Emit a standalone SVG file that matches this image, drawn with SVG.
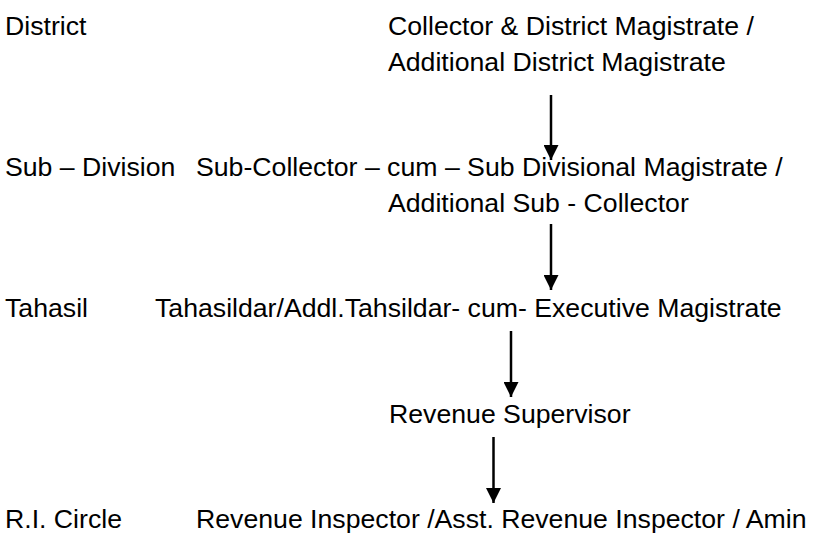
<svg xmlns="http://www.w3.org/2000/svg" width="813" height="537" viewBox="0 0 813 537">
<defs>
<style>
text{font-family:"Liberation Sans",Arial,sans-serif;font-size:26.67px;fill:#000}
.c line{stroke:#000;stroke-width:2.5}
</style>
<marker id="ah" viewBox="0 0 10 10" refX="10" refY="5" markerWidth="6" markerHeight="6" markerUnits="strokeWidth" orient="auto">
<path d="M0,0 L10,5 L0,10 Z" fill="#000"/>
</marker>
</defs>
<rect width="813" height="537" fill="#fff"/>
<g id="lbl-district"><text x="5" y="35">District</text></g>
<g id="n-collector"><text x="388" y="35">Collector &amp; District Magistrate /</text><text x="388" y="70.5">Additional District Magistrate</text></g>
<g id="lbl-subdivision"><text x="5" y="175.5">Sub – Division</text></g>
<g id="n-subcollector"><text x="196" y="175.5">Sub-Collector – cum – Sub Divisional Magistrate /</text><text x="388" y="211.5">Additional Sub - Collector</text></g>
<g id="lbl-tahasil"><text x="5" y="316.5">Tahasil</text></g>
<g id="n-tahasildar"><text x="155" y="316.5">Tahasildar/Addl.Tahsildar- cum- Executive Magistrate</text></g>
<g id="n-supervisor"><text x="389" y="423">Revenue Supervisor</text></g>
<g id="lbl-ricircle"><text x="5" y="528">R.I. Circle</text></g>
<g id="n-inspector"><text x="196" y="528">Revenue Inspector /Asst. Revenue Inspector / Amin</text></g>
<g class="c" id="connectors">
<line x1="551" y1="95" x2="551" y2="160" marker-end="url(#ah)"/>
<line x1="551" y1="224" x2="551" y2="290" marker-end="url(#ah)"/>
<line x1="511" y1="331" x2="511" y2="397" marker-end="url(#ah)"/>
<line x1="493.5" y1="437" x2="493.5" y2="503" marker-end="url(#ah)"/>
</g>
</svg>
